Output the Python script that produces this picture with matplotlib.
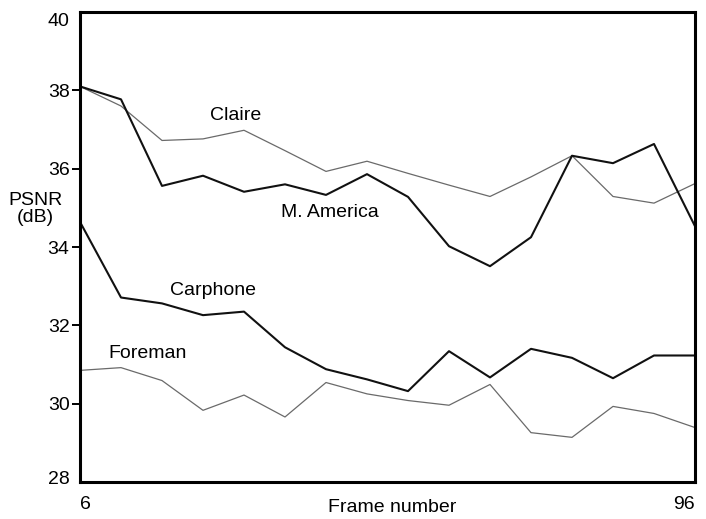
import matplotlib.pyplot as plt
from matplotlib.transforms import ScaledTranslation
import numpy as np

plt.rcParams['font.family'] = ['Liberation Sans', 'DejaVu Sans']

frames = np.arange(6, 97, 6)

claire = [38.10, 37.60, 36.72, 36.76, 36.98, 36.46, 35.93, 36.19,
          35.88, 35.58, 35.29, 35.79, 36.33, 35.29, 35.12, 35.62]
m_america = [38.10, 37.77, 35.56, 35.82, 35.41, 35.60, 35.33, 35.86,
             35.28, 34.02, 33.51, 34.25, 36.33, 36.14, 36.63, 34.53]
carphone = [34.64, 32.71, 32.56, 32.26, 32.35, 31.44, 30.88, 30.62,
            30.32, 31.34, 30.67, 31.40, 31.17, 30.65, 31.23, 31.23]
foreman = [30.85, 30.92, 30.59, 29.83, 30.22, 29.66, 30.54, 30.25,
           30.08, 29.96, 30.49, 29.26, 29.14, 29.93, 29.75, 29.39]

y_ticks = [28, 30, 32, 34, 36, 38, 40]

fig = plt.figure(figsize=(7.06, 5.19), dpi=100)
ax = fig.add_axes([80 / 706, 1 - 482 / 519, 615 / 706, 470 / 519])

thin = dict(color='#6a6a6a', linewidth=0.9)
thick = dict(color='#111111', linewidth=1.5)

ax.plot(frames, claire, **thin)
ax.plot(frames, m_america, **thick)
ax.plot(frames, carphone, **thick)
ax.plot(frames, foreman, **thin)

# curve names written next to each line
fs = 14
ax.text(28.8, 37.37, 'Claire', fontsize=fs, ha='center', va='center')
ax.text(42.6, 34.87, 'M. America', fontsize=fs, ha='center', va='center')
ax.text(25.5, 32.9, 'Carphone', fontsize=fs, ha='center', va='center')
ax.text(15.9, 31.27, 'Foreman', fontsize=fs, ha='center', va='center')

ax.set_xlim(6, 96)
ax.set_ylim(28, 40)
ax.set_yticks(y_ticks)
ax.set_yticklabels([str(t) for t in y_ticks])
ax.set_xticks([6, 96])
ax.set_xticklabels(['6', '96'])

ax.tick_params(axis='y', direction='out', length=6, width=1.4, pad=1.5,
               labelsize=fs)
ax.tick_params(axis='x', length=0, pad=10, labelsize=fs)

# no tick marks at the corners
yt = ax.yaxis.get_major_ticks()
yt[0].tick1line.set_visible(False)
yt[-1].tick1line.set_visible(False)

# pull the end labels inside the frame
lbls = ax.get_yticklabels()
lbls[-1].set_transform(lbls[-1].get_transform() + ScaledTranslation(0, -8 / 100, fig.dpi_scale_trans))
lbls[0].set_transform(lbls[0].get_transform() + ScaledTranslation(0, 5 / 100, fig.dpi_scale_trans))
xl = ax.get_xticklabels()
xl[0].set_horizontalalignment('left')
xl[1].set_horizontalalignment('right')

fig.text(392 / 706, 1 - 507 / 519, 'Frame number', fontsize=fs,
         ha='center', va='center')

fig.text(35 / 706, 1 - 209 / 519, 'PSNR\n(dB)', fontsize=fs,
         ha='center', va='center', linespacing=0.95)

for s in ax.spines.values():
    s.set_linewidth(2.2)

fig.savefig('out.png', dpi=100)
